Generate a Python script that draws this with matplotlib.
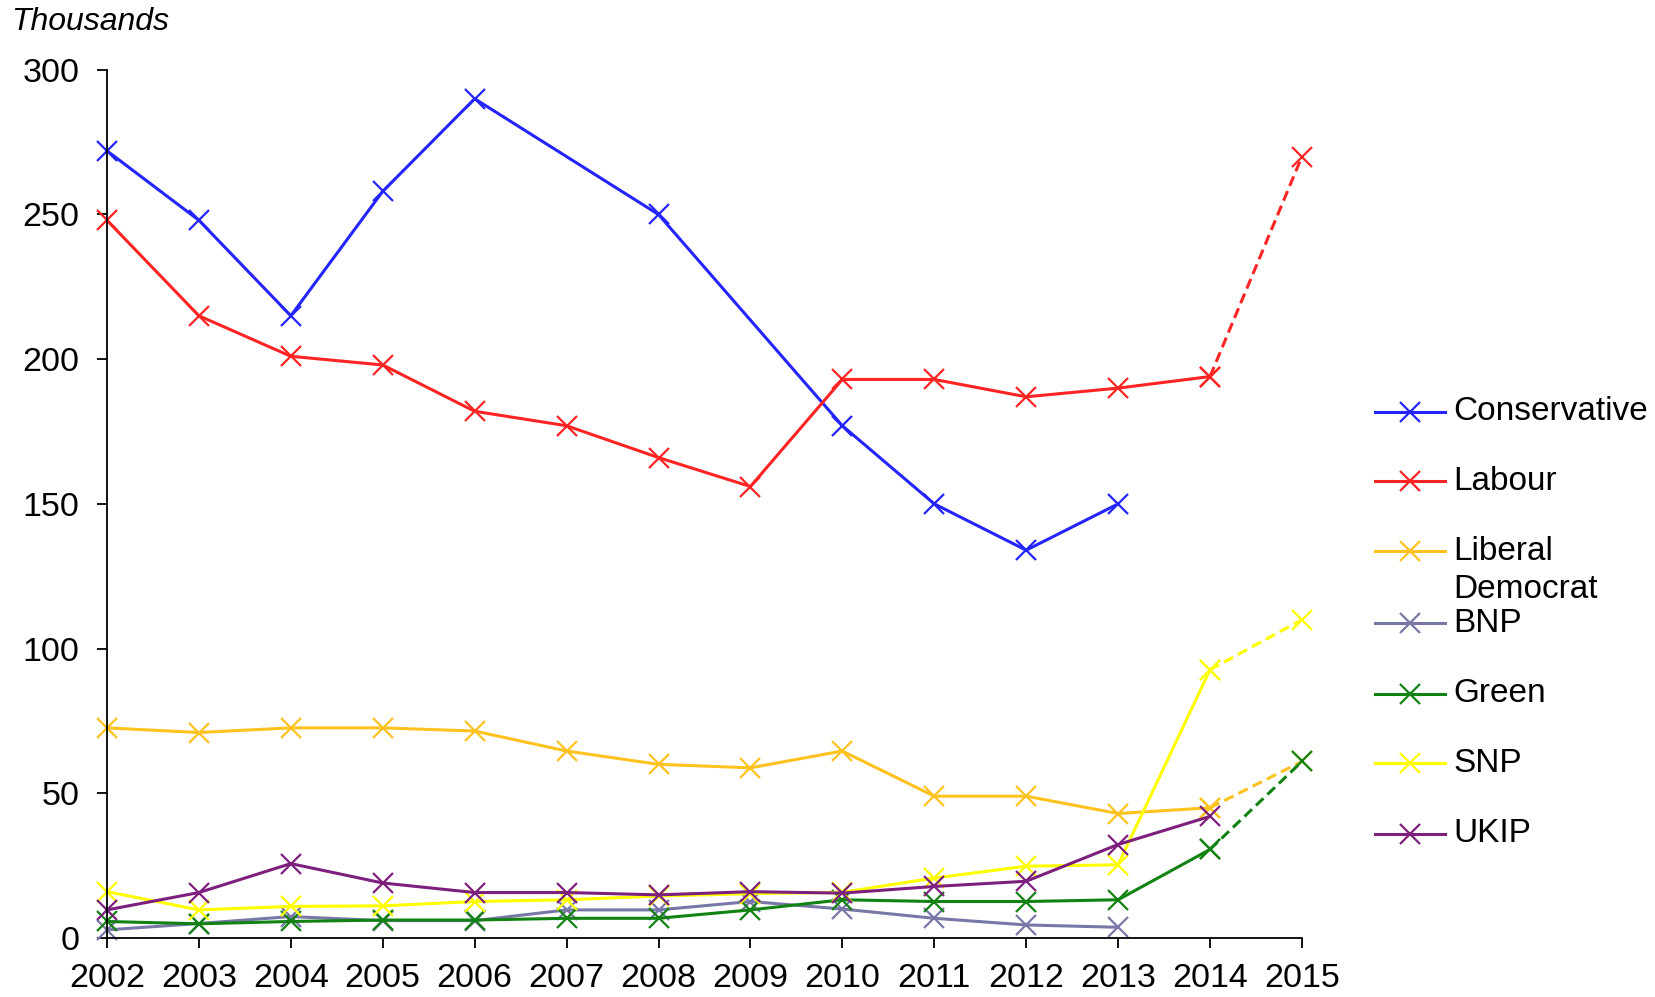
import numpy as np
import matplotlib
matplotlib.use('Agg')
import matplotlib.pyplot as plt
from matplotlib.lines import Line2D

plt.rcParams['font.family'] = ['Liberation Sans', 'DejaVu Sans']

years = [2002, 2003, 2004, 2005, 2006, 2007, 2008, 2009, 2010, 2011, 2012, 2013, 2014]
proj_year = 2015

# membership, thousands (None = no figure)
conservative = [272, 248, 215, 258, 290, None, 250, None, 177, 150, 134, 150, None]
labour = [248, 215, 201, 198, 182, 177, 166, 156, 193, 193, 187, 190, 194]
lib_dem = [72.6, 71, 72.6, 72.6, 71.5, 64.6, 60, 58.8, 64.6, 49, 49, 43, 45]
bnp = [2.8, 5, 7.4, 6, 6, 9.7, 9.7, 12.6, 10, 6.8, 4.5, 3.7, None]
green = [5.7, 4.9, 5.7, 6.2, 6.2, 6.8, 6.8, 9.7, 13.2, 12.6, 12.6, 13.2, 30.6]
snp = [16, 9.7, 10.9, 11.1, 12.6, 13.2, 14.5, 15.3, 15.8, 20.7, 24.8, 25.3, 92.7]
ukip = [9.7, 15.7, 25.7, 19, 15.7, 15.7, 14.9, 16, 15.5, 17.8, 19.6, 32.3, 42]

# 2015 figures (dashed link from 2014)
labour_2015 = 270
lib_dem_2015 = 61
green_2015 = 61
snp_2015 = 110

series = [
    ('Conservative', conservative, None, '#2424ff'),
    ('Labour', labour, labour_2015, '#ff2424'),
    ('Liberal\nDemocrat', lib_dem, lib_dem_2015, '#ffc21f'),
    ('BNP', bnp, None, '#7878a8'),
    ('Green', green, green_2015, '#128212'),
    ('SNP', snp, snp_2015, '#ffff00'),
    ('UKIP', ukip, None, '#7d1f7d'),
]

fig = plt.figure(figsize=(16.56, 9.97), dpi=100)
ax = fig.add_axes([0.0646, 0.0592, 0.7216, 0.8708])

mk = dict(marker='x', markersize=15, markeredgewidth=1.6)
for name, vals, v15, col in series:
    xs = [y for y, v in zip(years, vals) if v is not None]
    ys = [v for v in vals if v is not None]
    ax.plot(xs, ys, color=col, lw=2.2, clip_on=False, **mk)
    if v15 is not None:
        ax.plot([years[-1], proj_year], [vals[-1], v15], color=col, lw=2.2,
                linestyle=(0, (3.4, 1.8)), clip_on=False, **mk)

ax.set_xlim(2002, 2015)
ax.set_ylim(0, 300)
ax.set_xticks(range(2002, 2016))
ax.set_yticks(range(0, 301, 50))
for s in ['top', 'right']:
    ax.spines[s].set_visible(False)
for s in ['left', 'bottom']:
    ax.spines[s].set_linewidth(1.3)
ax.tick_params(axis='both', direction='out', length=7, width=1.3, labelsize=24.5)
ax.tick_params(axis='y', pad=13)
ax.tick_params(axis='x', pad=11)

fig.text(0.007, 0.978, 'Thousands', fontsize=23, style='italic', va='center', ha='left')

# legend drawn by hand, Excel style
leg_y = [412, 481, 551, 623, 694, 763, 834]
for (name, vals, v15, col), py in zip(series, leg_y):
    fy = 1 - py / 997
    fig.add_artist(Line2D([1375 / 1656, 1445 / 1656], [fy, fy], color=col, lw=2.2))
    fig.add_artist(Line2D([1410 / 1656], [fy], color=col, **mk))
    for i, part in enumerate(name.split('\n')):
        fig.text(1453 / 1656, fy - i * 38 / 997, part, fontsize=24, va='center', ha='left')

fig.savefig('out.png', dpi=100)
